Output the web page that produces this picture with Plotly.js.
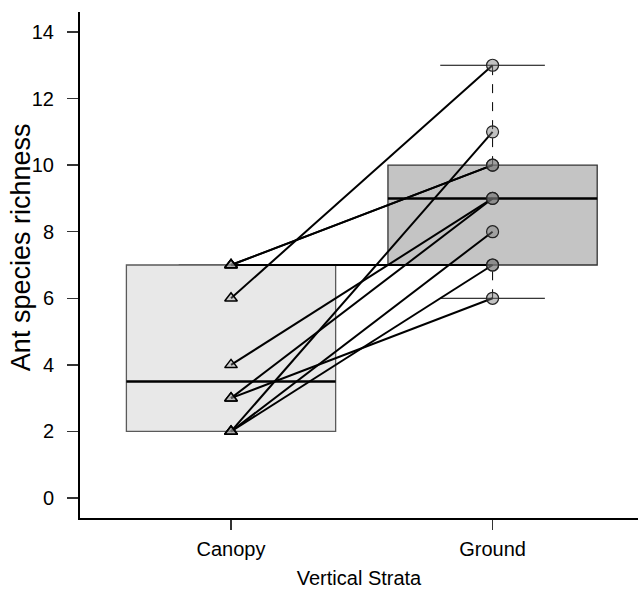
<!DOCTYPE html>
<html>
<head>
<meta charset="utf-8">
<script src="https://cdn.plot.ly/plotly-3.0.1.min.js"></script>
<style>html,body{margin:0;padding:0;background:#fff;}#chart{width:638px;height:589px;}</style>
</head>
<body>
<div id="chart"></div>
<script>
// Data
const categories = ["Canopy", "Ground"];
const canopyValues = [7, 7, 7, 6, 4, 3, 3, 2, 2, 2];
const groundValues = [10, 10, 7, 13, 9, 9, 6, 11, 8, 7];
const yTicks = [0, 2, 4, 6, 8, 10, 12, 14];
const xTitle = "Vertical Strata";
const yTitle = "Ant species richness";

// Tukey five-number summary (as in R boxplot)
function fivenum(arr) {
  const x = arr.slice().sort((a, b) => a - b);
  const n = x.length;
  const n4 = Math.floor((n + 3) / 2) / 2;
  const d = [1, n4, (n + 1) / 2, n + 1 - n4, n];
  return d.map(v => 0.5 * (x[Math.floor(v) - 1] + x[Math.ceil(v) - 1]));
}

const groups = [canopyValues, groundValues];
const boxFill = ["#e8e8e8", "#c4c4c4"];
const boxLine = ["#5a5a5a", "#333333"];
const halfW = 0.4;
const capW = 0.2;

const shapes = [];
groups.forEach((vals, i) => {
  const xc = i + 1;
  const [mn, q1, med, q3, mx] = fivenum(vals);
  shapes.push({type: "line", layer: "below", x0: xc, x1: xc, y0: q3, y1: mx, line: {color: "#000", width: 1, dash: "dash"}});
  shapes.push({type: "line", layer: "below", x0: xc, x1: xc, y0: mn, y1: q1, line: {color: "#000", width: 1, dash: "dash"}});
  shapes.push({type: "line", layer: "below", x0: xc - capW, x1: xc + capW, y0: mx, y1: mx, line: {color: "#000", width: 1}});
  shapes.push({type: "line", layer: "below", x0: xc - capW, x1: xc + capW, y0: mn, y1: mn, line: {color: "#000", width: 1}});
  shapes.push({type: "rect", layer: "below", x0: xc - halfW, x1: xc + halfW, y0: q1, y1: q3, fillcolor: boxFill[i], line: {color: boxLine[i], width: 1.3}});
  shapes.push({type: "line", layer: "below", x0: xc - halfW, x1: xc + halfW, y0: med, y1: med, line: {color: "#000", width: 2.5}});
});

const traces = [];
canopyValues.forEach((c, k) => {
  traces.push({
    x: [1, 2], y: [c, groundValues[k]], type: "scatter", mode: "lines",
    line: {color: "#000", width: 2}, hoverinfo: "skip", showlegend: false
  });
});
traces.push({
  x: canopyValues.map(() => 1), y: canopyValues, type: "scatter", mode: "markers",
  marker: {symbol: "triangle-up", size: 11, color: "rgba(150,150,150,0.35)", line: {color: "#000", width: 1.5}},
  showlegend: false
});
traces.push({
  x: groundValues.map(() => 2), y: groundValues, type: "scatter", mode: "markers",
  marker: {symbol: "circle", size: 12, color: "rgba(120,120,120,0.45)", line: {color: "#222", width: 1.2}},
  showlegend: false
});

const font = {family: "Liberation Sans, Arial, sans-serif", color: "#000"};

const layout = {
  width: 638, height: 589,
  margin: {l: 80, r: 0, t: 12, b: 71},
  paper_bgcolor: "#fff", plot_bgcolor: "#fff",
  showlegend: false,
  font: Object.assign({size: 20}, font),
  shapes: shapes,
  annotations: [{
    text: yTitle, textangle: -90, showarrow: false,
    xref: "paper", yref: "paper", x: -0.106, y: 0.535,
    xanchor: "center", yanchor: "middle",
    font: Object.assign({size: 27}, font)
  }],
  xaxis: {
    range: [0.4226, 2.556],
    tickvals: [1, 2], ticktext: categories,
    showgrid: false, zeroline: false,
    showline: true, linecolor: "#000", linewidth: 2,
    ticks: "outside", ticklen: 10, tickwidth: 1.3, tickcolor: "#333",
    ticklabelstandoff: 2,
    tickfont: Object.assign({size: 20}, font),
    title: {text: xTitle, font: Object.assign({size: 20}, font), standoff: 16},
    automargin: false, fixedrange: true
  },
  yaxis: {
    range: [-0.6, 14.6],
    tickvals: yTicks,
    showgrid: false, zeroline: false,
    showline: true, linecolor: "#000", linewidth: 2,
    ticks: "outside", ticklen: 11, tickwidth: 1.3, tickcolor: "#333",
    ticklabelstandoff: 9,
    tickfont: Object.assign({size: 20}, font),
    automargin: false, fixedrange: true
  }
};

Plotly.newPlot("chart", traces, layout, {displayModeBar: false, staticPlot: true});
</script>
</body>
</html>
